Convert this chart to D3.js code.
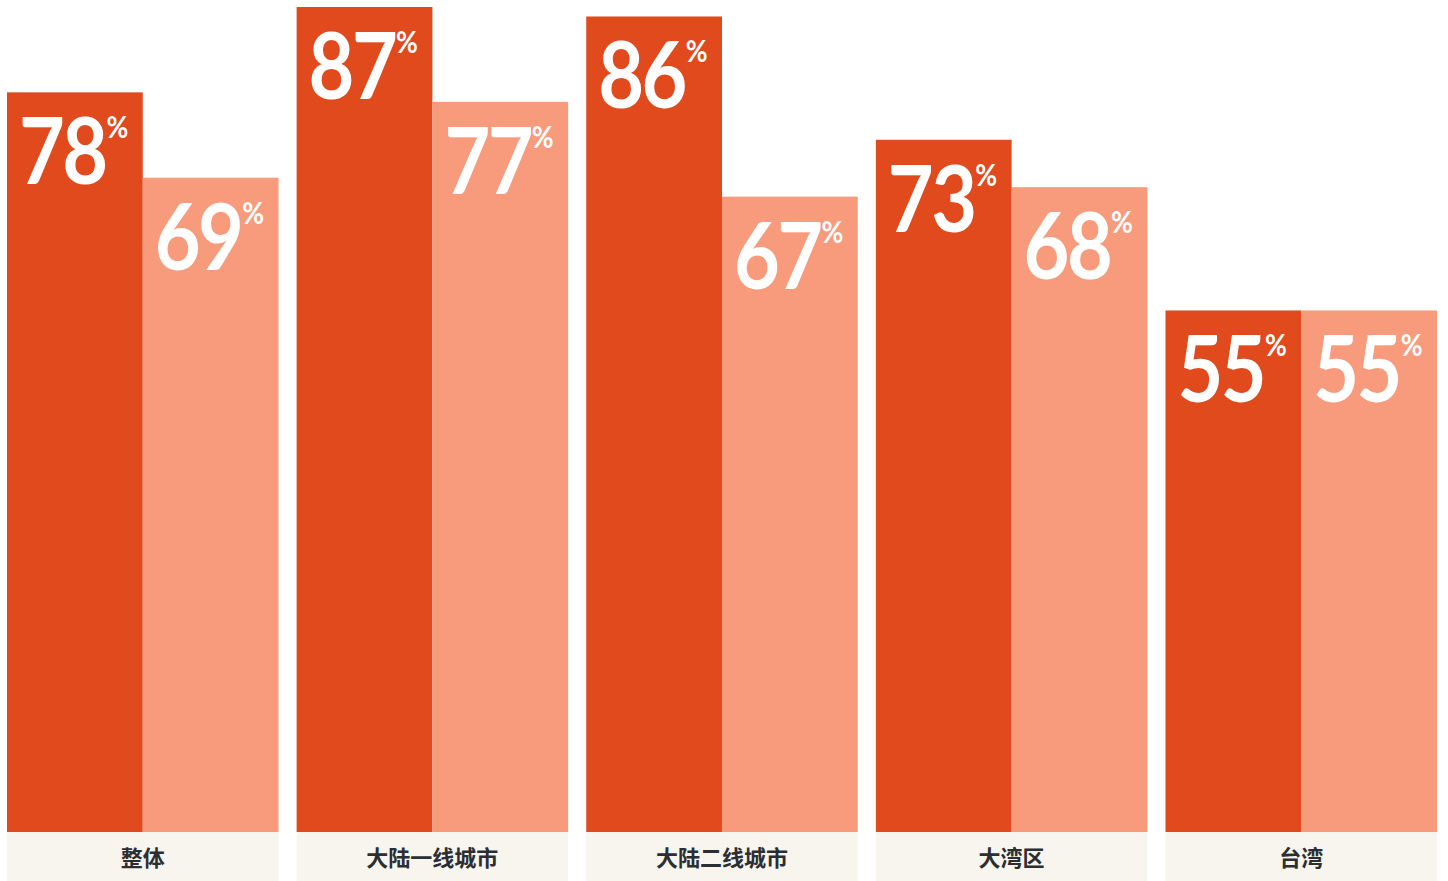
<!DOCTYPE html>
<html>
<head>
<meta charset="utf-8">
<script src="https://cdn.jsdelivr.net/npm/d3@7"></script>
<style>
  html, body { margin: 0; padding: 0; background: #ffffff; }
  svg { display: block; }
</style>
</head>
<body>
<svg id="chart" width="1448" height="881"></svg>
<script>
// Category names and the two series (percent values)
const categories = ["整体", "大陆一线城市", "大陆二线城市", "大湾区", "台湾"];
const seriesA = [78, 87, 86, 73, 55];
const seriesB = [69, 77, 67, 68, 55];
const seriesKeys = ["a", "b"];

const W = 1448, H = 881;
const baseY = 832;
const colors = { a: "#e04a1d", b: "#f89b7c" };

const svg = d3.select("#chart");

const x = d3.scaleBand().domain(categories).range([7, 1437]).paddingInner(0.0625).paddingOuter(0);
const xs = d3.scaleBand().domain(seriesKeys).range([0, x.bandwidth()]).padding(0);
const y = d3.scaleLinear().domain([0, 87]).range([baseY, 7]);

const rows = categories.map((c, i) => ({ cat: c, a: seriesA[i], b: seriesB[i] }));

// category label strips under each group
svg.append("g").selectAll("rect")
  .data(categories).join("rect")
  .attr("x", d => x(d)).attr("y", baseY)
  .attr("width", x.bandwidth()).attr("height", H - baseY)
  .attr("fill", "#f8f5ef");

svg.append("g").selectAll("text")
  .data(categories).join("text")
  .attr("x", d => x(d) + x.bandwidth() / 2)
  .attr("y", 866)
  .attr("text-anchor", "middle")
  .attr("font-family", "'Noto Sans CJK SC', sans-serif")
  .attr("font-weight", 700)
  .attr("font-size", 22)
  .attr("fill", "#2b2e33")
  .text(d => d);

// bars
const groups = svg.append("g").selectAll("g")
  .data(rows).join("g")
  .attr("transform", d => `translate(${x(d.cat)},0)`);

const cells = groups.selectAll("g")
  .data(d => seriesKeys.map(k => ({ key: k, value: d[k] })))
  .join("g");

cells.append("rect")
  .attr("x", d => xs(d.key))
  .attr("y", d => y(d.value))
  .attr("width", xs.bandwidth())
  .attr("height", d => baseY - y(d.value))
  .attr("fill", d => colors[d.key]);

// value labels: big, slightly narrowed number with a small raised percent sign
const lbl = cells.append("text")
  .attr("transform", d => `translate(${xs(d.key) + 12},${y(d.value) + 92}) scale(0.86,1)`)
  .attr("font-family", "Lato, sans-serif")
  .attr("fill", "#ffffff");

lbl.append("tspan")
  .attr("font-size", 92)
  .attr("font-weight", 700)
  .attr("letter-spacing", -3)
  .text(d => d.value);

lbl.append("tspan")
  .attr("font-size", 31)
  .attr("font-weight", 700)
  .attr("dx", 1)
  .attr("dy", -46)
  .text("%");
</script>
</body>
</html>
